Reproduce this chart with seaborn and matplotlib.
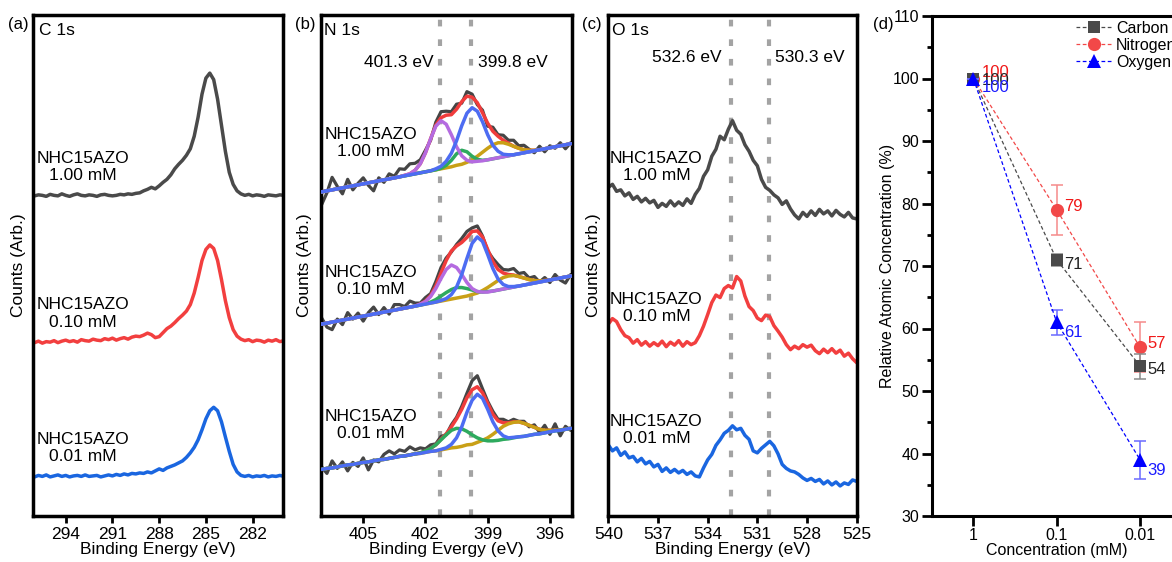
import matplotlib
matplotlib.use("Agg")
import matplotlib.pyplot as plt
import numpy as np
import seaborn as sns

# ---------------- (a) C 1s : counts (arb.) on a 296 -> 280 eV grid, 0.25 eV step
c1s_ev = np.linspace(296, 280, 65)
c1s_100 = [63.9, 64.1, 64.0, 63.8, 64.2, 64.0, 63.9, 64.3, 64.0, 63.8,
           64.1, 64.3, 64.0, 63.9, 64.1, 64.0, 63.8, 64.1, 64.2, 64.0,
           63.9, 64.0, 64.2, 64.1, 64.3, 64.2, 64.4, 64.5, 64.9, 65.2,
           65.6, 65.3, 65.9, 66.6, 67.2, 68.1, 69.3, 70.2, 71.0, 72.0,
           73.3, 75.8, 79.6, 84.2, 87.4, 88.4, 87.1, 83.2, 78.0, 72.8,
           68.6, 66.2, 64.9, 64.3, 64.0, 64.2, 63.9, 64.1, 64.0, 63.8,
           64.1, 64.0, 63.9, 64.1, 64.0]
c1s_010 = [34.6, 34.9, 34.5, 34.8, 34.7, 35.0, 34.6, 34.9, 35.1, 34.8,
           35.0, 34.7, 35.2, 35.0, 34.9, 35.3, 35.1, 35.0, 35.4, 35.2,
           35.5, 35.1, 35.4, 35.6, 35.3, 35.7, 35.9, 35.8, 36.1, 36.5,
           36.2, 35.6, 35.8, 36.6, 37.4, 37.9, 38.6, 39.4, 40.1, 40.9,
           42.2, 44.5, 47.6, 51.0, 53.2, 54.1, 53.4, 51.0, 47.2, 43.0,
           39.6, 37.2, 35.9, 35.3, 35.0, 35.2, 34.8, 35.1, 35.0, 34.7,
           35.1, 34.9, 35.2, 34.8, 35.0]
c1s_001 = [7.8, 8.1, 7.9, 8.2, 7.8, 8.0, 8.2, 7.9, 8.1, 7.8,
           8.0, 8.1, 7.9, 8.2, 7.9, 8.0, 8.1, 7.8, 8.0, 8.2,
           8.0, 8.3, 8.1, 8.4, 8.2, 8.5, 8.4, 8.6, 8.5, 8.8,
           8.6, 9.0, 9.4, 9.1, 9.6, 9.9, 10.2, 10.6, 11.0, 11.7,
           12.6, 13.7, 15.2, 17.2, 19.4, 21.0, 21.7, 21.0, 18.8, 15.8,
           12.9, 10.3, 8.8, 8.1, 7.9, 8.1, 7.8, 8.0, 7.9, 8.1,
           7.8, 8.0, 7.9, 8.1, 7.9]

# ---------------- (b) N 1s : 407 -> 395 eV, 0.25 eV step, linear background + fitted peaks
n1s_ev = np.linspace(407, 395, 49)
n1s_bg_100 = [64.7, 64.9, 65.1, 65.3, 65.5, 65.7, 65.9, 66.1, 66.3, 66.5,
              66.7, 66.9, 67.1, 67.3, 67.5, 67.7, 67.9, 68.1, 68.3, 68.5,
              68.7, 68.9, 69.1, 69.3, 69.5, 69.7, 69.9, 70.1, 70.3, 70.5,
              70.7, 70.9, 71.1, 71.3, 71.5, 71.7, 71.9, 72.1, 72.3, 72.5,
              72.7, 72.9, 73.1, 73.3, 73.5, 73.7, 73.9, 74.1, 74.3]
n1s_bg_010 = [38.3, 38.5, 38.7, 38.9, 39.1, 39.3, 39.5, 39.7, 39.9, 40.1,
              40.3, 40.5, 40.7, 40.9, 41.1, 41.3, 41.5, 41.7, 41.9, 42.1,
              42.3, 42.5, 42.7, 42.9, 43.1, 43.3, 43.5, 43.7, 43.9, 44.1,
              44.3, 44.5, 44.7, 44.9, 45.1, 45.3, 45.5, 45.7, 45.9, 46.1,
              46.3, 46.5, 46.7, 46.9, 47.1, 47.3, 47.5, 47.7, 47.9]
n1s_bg_001 = [9.3, 9.5, 9.6, 9.8, 10.0, 10.2, 10.3, 10.5, 10.7, 10.8,
              11.0, 11.2, 11.3, 11.5, 11.7, 11.9, 12.0, 12.2, 12.4, 12.5,
              12.7, 12.9, 13.0, 13.2, 13.4, 13.6, 13.7, 13.9, 14.1, 14.2,
              14.4, 14.6, 14.7, 14.9, 15.1, 15.3, 15.4, 15.6, 15.8, 15.9,
              16.1, 16.3, 16.4, 16.6, 16.8, 17.0, 17.1, 17.3, 17.5]

# peak heights above the background (401.3 eV purple, 399.8 eV blue, green, gold)
n1s_purple_100 = [0.0] * 16 + [0.1, 0.2, 0.7, 1.8, 3.8, 6.4, 8.7, 9.6, 8.7, 6.4,
                               3.8, 1.8, 0.7, 0.2, 0.1] + [0.0] * 18
n1s_blue_100 = [0.0] * 21 + [0.0, 0.2, 0.5, 1.3, 2.7, 5.0, 7.8, 10.1, 11.0, 10.1,
                             7.8, 5.0, 2.7, 1.3, 0.5, 0.2, 0.0] + [0.0] * 11
n1s_green_100 = [0.0] * 23 + [0.1, 0.5, 1.3, 2.4, 2.9, 2.4, 1.3, 0.5, 0.1] + [0.0] * 17
n1s_gold_100 = [0.0] * 26 + [0.1, 0.1, 0.3, 0.6, 1.1, 1.7, 2.3, 2.8, 3.0, 2.8,
                             2.3, 1.7, 1.1, 0.6, 0.3, 0.1, 0.0] + [0.0] * 6

n1s_purple_010 = [0.0] * 19 + [0.2, 0.5, 1.3, 2.7, 4.5, 6.1, 6.8, 6.1, 4.5, 2.7,
                               1.3, 0.5, 0.2] + [0.0] * 17
n1s_blue_010 = [0.0] * 23 + [0.1, 0.3, 0.9, 2.2, 4.5, 7.5, 10.3, 11.4, 10.3, 7.5,
                             4.5, 2.2, 0.9, 0.3, 0.1] + [0.0] * 11
n1s_green_010 = [0.0] * 20 + [0.1, 0.2, 0.5, 1.0, 1.5, 1.9, 2.1, 1.9, 1.5, 1.0,
                              0.5, 0.2, 0.1] + [0.0] * 16
n1s_gold_010 = [0.0] * 29 + [0.1, 0.2, 0.5, 0.9, 1.4, 1.9, 2.3, 2.4, 2.3, 1.9,
                             1.4, 0.9, 0.5, 0.2, 0.1] + [0.0] * 5

n1s_blue_001 = [0.0] * 23 + [0.1, 0.2, 0.7, 1.9, 3.9, 6.6, 8.9, 9.9, 8.9, 6.6,
                             3.9, 1.9, 0.7, 0.2, 0.1] + [0.0] * 11
n1s_green_001 = [0.0] * 19 + [0.1, 0.3, 0.6, 1.2, 2.0, 2.8, 3.5, 3.8, 3.5, 2.8,
                              2.0, 1.2, 0.6, 0.3, 0.1] + [0.0] * 15
n1s_gold_001 = [0.0] * 28 + [0.1, 0.1, 0.3, 0.5, 0.9, 1.4, 2.0, 2.6, 3.0, 3.1,
                             3.0, 2.6, 2.0, 1.4, 0.9, 0.5, 0.3, 0.1, 0.1] + [0.0] * 2

# measured counts minus the fit envelope
n1s_resid_100 = [-2.5, -0.4, 2.5, 0.5, -1.2, 1.5, -0.8, 0.3, 1.2, -0.5,
                 -1.8, 0.6, -0.5, 1.0, 0.3, 1.6, 1.2, 2.0, 1.4, 0.8,
                 0.5, -0.3, 0.6, 1.2, 0.8, 0.6, 1.0, -0.3, 0.9, 0.6,
                 -0.4, 0.5, -0.6, 0.8, 0.3, 1.0, 0.6, 1.2, 0.5, 0.9,
                 0.2, -0.5, 0.7, -0.6, 0.4, -0.3, 0.6, -0.8, 0.2]
n1s_resid_010 = [1.2, -0.8, -1.5, 0.4, -0.9, 1.3, -0.2, 0.8, -1.0, 0.5,
                 1.4, -0.3, 0.9, -0.6, 1.1, 0.9, 0.3, 1.2, 0.6, 0.2,
                 0.7, 0.4, 0.9, 1.1, 0.5, -0.2, 0.3, 0.8, 1.2, 0.7,
                 1.0, 0.2, -0.3, 0.6, 1.0, 0.7, 0.9, 1.3, 0.6, 1.1,
                 0.3, 0.8, -0.2, 0.6, -0.5, 0.9, -0.4, -1.2, 0.3]
n1s_resid_001 = [0.5, -1.0, 1.4, -0.3, 0.8, -1.2, 0.4, -0.6, 0.9, -1.6,
                 0.2, -0.4, 1.0, 1.5, 0.7, 1.3, 0.9, 1.6, 0.8, 1.0,
                 0.4, 0.7, 0.2, 0.6, -0.2, 0.4, 0.3, 0.6, 0.9, 1.8,
                 2.2, 0.8, 0.4, 0.6, 0.3, 0.7, 0.2, 0.5, 0.1, 0.4,
                 -0.3, 0.5, -0.6, 1.0, -0.8, 1.3, -1.2, 0.6, -0.4]

# ---------------- (c) O 1s : 540 -> 525 eV, 0.25 eV step
o1s_ev = np.linspace(540, 525, 61)
o1s_100 = [65.6, 66.2, 64.8, 65.1, 63.9, 64.5, 63.2, 63.8, 62.7, 63.4,
           62.5, 63.0, 61.6, 62.4, 61.8, 62.9, 61.9, 62.7, 62.0, 63.3,
           62.4, 64.2, 65.4, 67.8, 69.1, 71.8, 73.2, 75.8, 75.1, 77.2,
           78.9, 77.0, 76.2, 74.1, 72.8, 71.0, 69.9, 67.2, 65.6, 65.0,
           64.1, 63.5, 62.2, 62.9, 61.3, 60.1, 59.3, 60.6, 59.8, 60.9,
           60.0, 61.2, 60.3, 60.9, 59.9, 61.0, 60.2, 59.7, 60.6, 59.5,
           59.3]
o1s_010 = [38.3, 39.4, 38.8, 37.2, 36.0, 35.6, 34.5, 35.2, 34.1, 34.8,
           33.9, 34.6, 34.0, 34.9, 33.8, 34.7, 34.1, 35.0, 33.9, 34.8,
           34.2, 34.6, 36.0, 37.9, 40.2, 42.6, 44.1, 43.6, 45.4, 46.0,
           45.5, 47.8, 46.9, 43.9, 41.8, 41.0, 39.5, 39.0, 40.1, 39.8,
           38.0, 36.9, 35.7, 34.2, 33.2, 33.9, 33.4, 34.2, 33.7, 34.1,
           33.0, 32.4, 33.3, 32.6, 33.4, 32.5, 33.1, 31.9, 32.5, 31.4,
           30.6]
o1s_001 = [14.2, 13.0, 13.6, 12.1, 12.8, 11.6, 11.9, 10.8, 11.5, 10.4,
           10.9, 9.8, 10.3, 8.9, 9.6, 8.7, 9.3, 8.6, 9.1, 8.3,
           8.8, 8.0, 7.8, 9.6, 11.2, 12.3, 14.1, 15.2, 16.5, 17.1,
           18.0, 17.2, 17.5, 16.1, 15.3, 13.0, 12.6, 13.5, 14.2, 14.9,
           14.0, 12.4, 10.3, 9.5, 9.0, 8.8, 8.3, 7.6, 7.1, 7.5,
           6.9, 7.3, 6.4, 7.0, 6.2, 6.8, 6.0, 6.6, 6.3, 7.2,
           6.9]

# ---------------- (d) relative atomic concentration
conc_labels = ["1", "0.1", "0.01"]
carbon = [100, 71, 54]
carbon_err = [0, 1, 2]
nitrogen = [100, 79, 57]
nitrogen_err = [0, 4, 4]
oxygen = [100, 61, 39]
oxygen_err = [0, 2, 3]

sample_labels = ["NHC15AZO\n1.00 mM", "NHC15AZO\n0.10 mM", "NHC15AZO\n0.01 mM"]

GRAY, RED, BLUE = "#4a4a4a", "#f23f3f", "#1a66e0"
FIT = {"env": "#f03c3c", "purple": "#b46be0", "green": "#2eaa5e",
       "blue": "#4d6cf2", "gold": "#c9a016"}

sns.set_theme(style="white")
plt.rcParams["font.family"] = ["Liberation Sans", "DejaVu Sans"]
plt.rcParams.update({"text.color": "black", "axes.labelcolor": "black",
                     "xtick.color": "black", "ytick.color": "black"})

W, H = 1172, 562
fig = plt.figure(figsize=(W / 100, H / 100), dpi=100)
fig.patch.set_facecolor("white")


def px_rect(x0, x1, y_top=15, y_bot=516):
    return [x0 / W, 1 - y_bot / H, (x1 - x0) / W, (y_bot - y_top) / H]


def spectrum_axes(rect, xlim, xticks, xlabel, ylab_x):
    ax = fig.add_axes(rect)
    ax.set_xlim(*xlim)
    ax.set_ylim(0, 100)
    ax.set_xticks(xticks)
    ax.set_yticks([])
    ax.tick_params(axis="x", bottom=True, direction="out", length=5, width=2,
                   labelsize=12.5, pad=3, colors="black")
    for s in ax.spines.values():
        s.set_linewidth(2.5)
        s.set_color("black")
    ax.set_xlabel(xlabel, fontsize=12.5, labelpad=0)
    ax.set_ylabel("Counts (Arb.)", fontsize=12.5)
    ax.yaxis.set_label_coords(ylab_x, 0.5)
    return ax


def line(ax, x, y, color, lw=2.5, z=2):
    sns.lineplot(x=x, y=y, ax=ax, color=color, lw=lw, sort=False,
                 estimator=None, legend=False, zorder=z)


dots = dict(color="#a3a3a3", lw=3, linestyle=(0, (1.6, 3.1)), zorder=0)

# ---- (a)
ax_a = spectrum_axes(px_rect(33, 283), (296.1, 280.05), [294, 291, 288, 285, 282],
                     "Binding Energy (eV)", -0.028)
for y, c in zip([c1s_100, c1s_010, c1s_001], [GRAY, RED, BLUE]):
    line(ax_a, c1s_ev, y, c)
for lab, yv in zip(sample_labels, [69.7, 40.4, 13.6]):
    ax_a.text(292.9, yv, lab, ha="center", va="center", fontsize=12.5)
ax_a.text(0.024, 0.97, "C 1s", transform=ax_a.transAxes, ha="left", va="center", fontsize=12.5)

# ---- (b)
ax_b = spectrum_axes(px_rect(320.7, 572.3), (407.05, 394.92), [405, 402, 399, 396],
                     "Binding Evergy (eV)", -0.035)
ax_b.axvline(401.3, **dots)
ax_b.axvline(399.8, **dots)
spectra_b = [
    (n1s_bg_100, n1s_resid_100, n1s_purple_100, n1s_green_100, n1s_gold_100, n1s_blue_100),
    (n1s_bg_010, n1s_resid_010, n1s_purple_010, n1s_green_010, n1s_gold_010, n1s_blue_010),
    (n1s_bg_001, n1s_resid_001, None, n1s_green_001, n1s_gold_001, n1s_blue_001),
]
for bg, resid, pu, gr, go, bl in spectra_b:
    bg = np.array(bg)
    comps = [np.array(c) for c in (pu, gr, go, bl) if c is not None]
    envelope = bg + np.sum(comps, axis=0)
    line(ax_b, n1s_ev, envelope + np.array(resid), "#454545", lw=2.3, z=2)
    line(ax_b, n1s_ev, envelope, FIT["env"], z=3)
    line(ax_b, n1s_ev, bg + np.array(go), FIT["gold"], z=4)
    line(ax_b, n1s_ev, bg + np.array(gr), FIT["green"], z=5)
    if pu is not None:
        line(ax_b, n1s_ev, bg + np.array(pu), FIT["purple"], z=6)
    line(ax_b, n1s_ev, bg + np.array(bl), FIT["blue"], z=7)
for lab, yv in zip(sample_labels, [74.4, 46.9, 18.2]):
    ax_b.text(404.65, yv, lab, ha="center", va="center", fontsize=12.5, zorder=10)
ax_b.text(0.012, 0.97, "N 1s", transform=ax_b.transAxes, ha="left", va="center", fontsize=12.5)
ax_b.text(403.3, 90.5, "401.3 eV", ha="center", va="center", fontsize=12.5)
ax_b.text(397.78, 90.5, "399.8 eV", ha="center", va="center", fontsize=12.5)

# ---- (c)
ax_c = spectrum_axes(px_rect(608.3, 856.7), (540, 525), [540, 537, 534, 531, 528, 525],
                     "Binding Energy (eV)", -0.029)
ax_c.axvline(532.6, **dots)
ax_c.axvline(530.3, **dots)
for y, c in zip([o1s_100, o1s_010, o1s_001], [GRAY, RED, BLUE]):
    line(ax_c, o1s_ev, y, c)
for lab, yv in zip(sample_labels, [69.7, 41.5, 17.2]):
    ax_c.text(537.1, yv, lab, ha="center", va="center", fontsize=12.5)
ax_c.text(0.016, 0.97, "O 1s", transform=ax_c.transAxes, ha="left", va="center", fontsize=12.5)
ax_c.text(535.27, 91.6, "532.6 eV", ha="center", va="center", fontsize=12.5)
ax_c.text(527.82, 91.6, "530.3 eV", ha="center", va="center", fontsize=12.5)

# ---- (d)
ax_d = fig.add_axes(px_rect(931.7, 1181.7, y_top=16))
pos = np.arange(len(conc_labels))
series = [
    ("Nitrogen", nitrogen, nitrogen_err, "#f24848", "#f58a8a", "o", 9.5, 3),
    ("Carbon", carbon, carbon_err, "#4a4a4a", "#8a8a8a", "s", 8.5, 4),
    ("Oxygen", oxygen, oxygen_err, "#0000ff", "#6a6aff", "^", 10.5, 5),
]
handles = {}
for name, vals, errs, col, ecol, mk, ms, z in series:
    ax_d.errorbar(pos, vals, yerr=errs, fmt="none", ecolor=ecol, elinewidth=1.1,
                  capsize=4, capthick=1.1, zorder=z)
    sns.lineplot(x=pos, y=vals, ax=ax_d, color=col, lw=0.9, linestyle=(0, (3, 2)),
                 marker=mk, markersize=ms, markeredgewidth=0, markerfacecolor=col,
                 sort=False, estimator=None, label=name, zorder=z + 0.5, legend=False)
    handles[name] = ax_d.lines[-1]

value_offsets = {
    "Nitrogen": [(6, 4.2), (5, 2), (5, 2.7)],
    "Carbon": [(6, -1.5), (5, -3.2), (5, -2.7)],
    "Oxygen": [(6, -6.8), (5, -7.6), (5, -7.6)],
}
label_colors = {"Nitrogen": "#f01818", "Carbon": "#222222", "Oxygen": "#1a1aff"}
for name, vals, *_ in series:
    for p, v, (dx, dy) in zip(pos, vals, value_offsets[name]):
        ax_d.annotate(str(v), (p, v), xytext=(dx, dy), textcoords="offset points",
                      ha="left", va="center", fontsize=12, color=label_colors[name], zorder=8)

ax_d.set_xlim(-0.5, 2.5)
ax_d.set_ylim(30, 110)
ax_d.set_xticks(pos)
ax_d.set_xticklabels(conc_labels)
ax_d.set_yticks(np.arange(30, 111, 10))
ax_d.set_yticks(np.arange(35, 110, 10), minor=True)
ax_d.tick_params(axis="both", which="major", direction="out", length=7, width=2,
                 labelsize=11.5, colors="black", bottom=True, left=True, pad=2)
ax_d.tick_params(axis="y", which="minor", direction="out", length=3.5, width=2, left=True)
for s in ax_d.spines.values():
    s.set_linewidth(2.2)
    s.set_color("black")
ax_d.set_xlabel("Concentration (mM)", fontsize=11.5, labelpad=0)
ax_d.set_ylabel("Relative Atomic Concentration (%)", fontsize=11.5)
ax_d.yaxis.set_label_coords(-0.147, 0.5)
ax_d.legend([handles["Carbon"], handles["Nitrogen"], handles["Oxygen"]],
            ["Carbon", "Nitrogen", "Oxygen"], loc="upper left",
            bbox_to_anchor=(1076 / W, 1 - 21 / H), bbox_transform=fig.transFigure,
            frameon=False, fontsize=11.5, handlelength=2.3, handletextpad=0.2,
            labelspacing=0.12, borderpad=0, borderaxespad=0)

# panel letters
for letter, xpx in zip(["(a)", "(b)", "(c)", "(d)"], [18.5, 305, 591.5, 883]):
    fig.text(xpx / W, 1 - 24 / H, letter, ha="center", va="center", fontsize=12)

fig.savefig("out.png", dpi=100, facecolor="white")
